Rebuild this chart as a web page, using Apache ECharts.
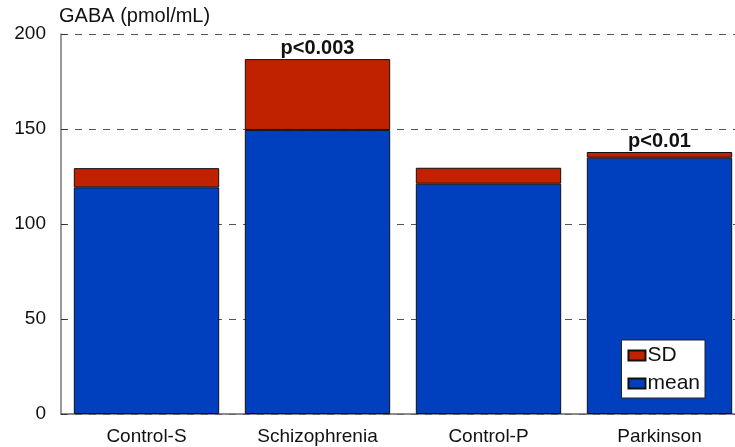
<!DOCTYPE html>
<html><head><meta charset="utf-8">
<script src="https://cdn.jsdelivr.net/npm/echarts@6/dist/echarts.min.js"></script>
<style>html,body{margin:0;padding:0;background:#fff}#c{width:735px;height:447px}</style>
</head><body><div id="c"></div>
<script>
const categories = ['Control-S', 'Schizophrenia', 'Control-P', 'Parkinson'];
const meanValues = [119.3, 149.5, 121.2, 134.9];
const sdValues = [10.1, 37.3, 8.4, 3.0];
const pLabels = ['', 'p<0.003', '', 'p<0.01'];
const yTicks = [0, 50, 100, 150, 200];

const chart = echarts.init(document.getElementById('c'));
const font = 'Liberation Sans, Arial, Helvetica, sans-serif';
chart.setOption({
  animation: false,
  textStyle: { fontFamily: font },
  grid: { left: 61, top: 34, bottom: 33, right: -10, outerBoundsMode: 'none', containLabel: false },
  legend: {
    right: 30, bottom: 49, orient: 'vertical',
    data: ['SD', 'mean'],
    backgroundColor: '#fff', borderColor: '#222', borderWidth: 1,
    padding: [5, 5, 4, 6], itemGap: 7, itemWidth: 17, itemHeight: 10,
    textStyle: { fontSize: 21, color: '#111', fontFamily: font, padding: [0, 0, 0, -3] },
    icon: 'rect'
  },
  xAxis: {
    type: 'category', data: categories,
    axisLine: { show: true, lineStyle: { color: '#666', width: 1.5 } },
    axisTick: { show: false },
    axisLabel: { fontSize: 19, color: '#111', margin: 13, fontFamily: font }
  },
  yAxis: {
    type: 'value', min: yTicks[0], max: yTicks[yTicks.length - 1], interval: 50,
    name: 'GABA (pmol/mL)', nameLocation: 'end', nameGap: 8,
    nameTextStyle: { fontSize: 20, color: '#111', align: 'left', padding: [0, 0, 0, -2], fontFamily: font },
    axisLine: { show: true, lineStyle: { color: '#777', width: 1.5 } },
    axisTick: { show: true, inside: true, length: 6, lineStyle: { color: '#333' } },
    axisLabel: { fontSize: 19, color: '#111', margin: 15, fontFamily: font },
    splitLine: { show: true, lineStyle: { color: '#555', type: [7, 7], width: 1 } }
  },
  series: [
    {
      name: 'mean', type: 'bar', stack: 's', barWidth: '85%',
      data: meanValues,
      itemStyle: { color: '#0040bf', borderColor: '#111', borderWidth: 1 }
    },
    {
      name: 'SD', type: 'bar', stack: 's', barWidth: '85%',
      data: sdValues.map((v, i) => ({
        value: v,
        label: {
          show: pLabels[i] !== '', position: 'top', distance: 1,
          formatter: pLabels[i], fontSize: 20, fontWeight: 'bold', color: '#111', fontFamily: font
        }
      })),
      itemStyle: { color: '#c02200', borderColor: '#111', borderWidth: 1 }
    }
  ]
});
</script></body></html>
